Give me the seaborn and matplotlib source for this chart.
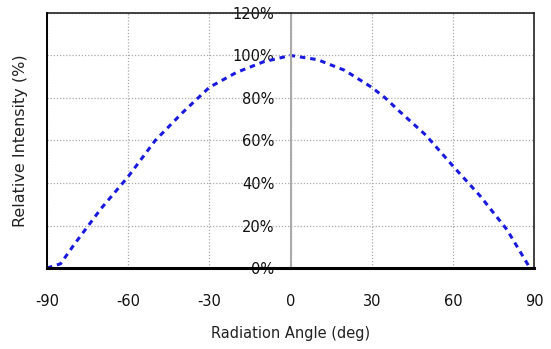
import numpy as np
import pandas as pd
import matplotlib
matplotlib.use("Agg")
import matplotlib.pyplot as plt
import seaborn as sns

# values
angles = [-90, -85, -80, -70, -60, -50, -40, -30, -20, -10, 0,
          10, 20, 30, 35, 40, 50, 60, 70, 80, 88]
intensity = [0, 2, 11, 28, 43, 60, 73, 85, 92, 97, 100,
             98, 93, 85, 80, 74, 62.5, 48, 34, 18, 1]
x_ticks = [-90, -60, -30, 0, 30, 60, 90]
y_ticks = [0, 20, 40, 60, 80, 100, 120]

df = pd.DataFrame({"angle": angles, "intensity": intensity})

sns.set_style("white")
plt.rcParams['font.family'] = ['DejaVu Sans']
plt.rcParams['axes.unicode_minus'] = False

fig = plt.figure(figsize=(5.51, 3.49), dpi=100)
ax = fig.add_axes([0.0853, 0.232, 0.884, 0.731])

sns.lineplot(data=df, x="angle", y="intensity", ax=ax, color="#1a1adf",
             linewidth=2.2, linestyle=(0, (1.8, 1.6)), estimator=None)

ax.set_xlim(-90, 90)
ax.set_ylim(0, 120)
ax.set_xticks(x_ticks)
ax.set_yticks(y_ticks)
ax.set_yticklabels([f"{v}%" for v in y_ticks])

ax.grid(True, color="#aaaaaa", linestyle=(0, (1, 1.5)), linewidth=0.9)

# y axis drawn through the centre, like the reference
ax.spines['left'].set_position(('data', 0))
ax.spines['left'].set_color("#aaaaaa")
ax.spines['left'].set_linewidth(1.5)
ax.axvline(-90, color="black", linewidth=1.4, clip_on=False, zorder=5)
ax.spines['bottom'].set_color("black")
ax.spines['bottom'].set_linewidth(2.2)
ax.spines['bottom'].set_zorder(6)
for s in ['top', 'right']:
    ax.spines[s].set_color("#222222")
    ax.spines[s].set_linewidth(1.2)

ax.tick_params(axis='y', direction='inout', length=5, width=1, color="#aaaaaa",
               pad=9, labelsize=10.5, labelcolor="#111111")
ax.tick_params(axis='x', length=0, pad=19, labelsize=10.5, labelcolor="#111111")

ax.set_xlabel("Radiation Angle (deg)", fontsize=10.5, labelpad=12, color="#222222")
ax.set_ylabel("Relative Intensity (%)", fontsize=11.5, color="#222222")
ax.yaxis.set_label_coords(-0.04, 0.5)

fig.savefig("out.png", dpi=100)
